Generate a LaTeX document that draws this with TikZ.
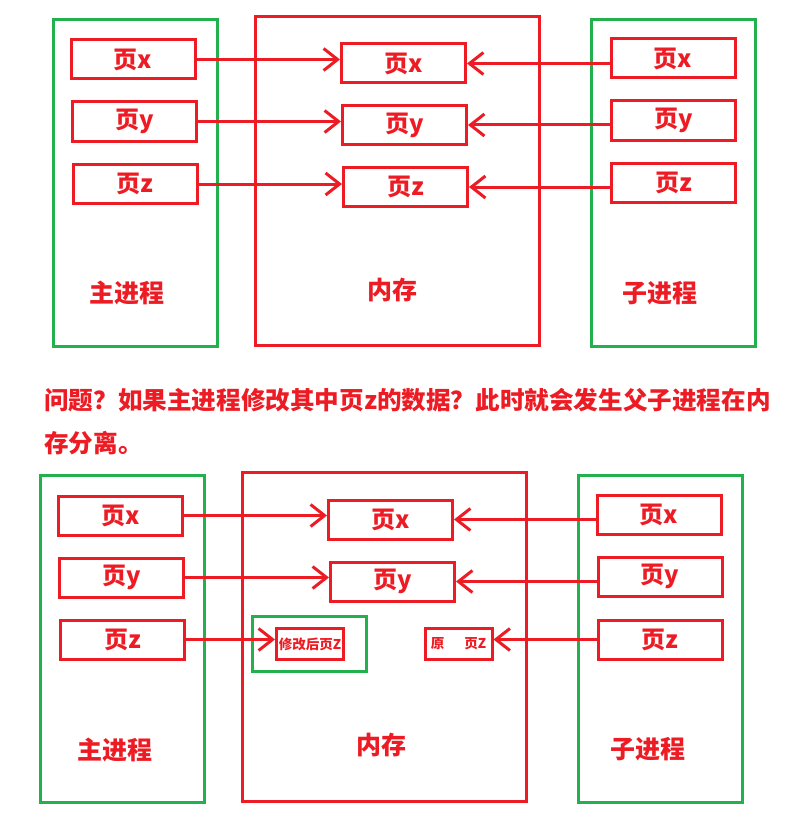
\documentclass[tikz,border=0pt]{standalone}
\usepackage{fontspec}
\setmainfont{Noto Sans CJK SC}
\usepackage{tikz}
\usetikzlibrary{arrows.meta,positioning}
\usepackage{xcolor}
\definecolor{paintred}{RGB}{237,28,36}
\definecolor{paintgreen}{RGB}{34,177,76}
\tikzset{
  procframe/.style={draw=paintgreen,line width=3pt,minimum width=164pt,minimum height=327pt,inner sep=0pt},
  memframe/.style={draw=paintred,line width=3pt,minimum width=284pt,minimum height=329pt,inner sep=0pt},
  pagebox/.style={draw=paintred,line width=3pt,minimum width=124pt,minimum height=39pt,inner sep=0pt,
    text=paintred,font=\bfseries\fontsize{24}{26}\selectfont},
  smallbox/.style={draw=paintred,line width=3pt,minimum width=67pt,minimum height=31pt,inner sep=0pt,
    text=paintred,font=\bfseries\fontsize{13.5}{15}\selectfont},
  newframe/.style={draw=paintgreen,line width=3pt,minimum width=114pt,minimum height=55pt,inner sep=0pt},
  framelabel/.style={text=paintred,font=\bfseries\fontsize{25}{27}\selectfont},
  titletext/.style={text=paintred,align=left,inner sep=0pt,font=\bfseries\fontsize{24.6}{43}\selectfont},
  link/.style={-{Straight Barb[length=14pt,width=22pt]},line width=3pt,draw=paintred}
}
\begin{document}
\begin{tikzpicture}[x=1pt,y=-1pt]
  \useasboundingbox (0,0) rectangle (795,824);
  % before the write
  \node[procframe] (mainA) at (135.5,183) {};
  \node[memframe] (memA) at (397,181) {};
  \node[procframe] (childA) at (673.5,183) {};
  \node[pagebox] (mAx) at (133,59.5) {页x};
  \node[pagebox] (mAy) at (134.5,121.5) {页y};
  \node[pagebox] (mAz) at (135,184) {页z};
  \node[pagebox] (memAx) at (403.5,63.5) {页x};
  \node[pagebox] (memAy) at (404.5,125) {页y};
  \node[pagebox] (memAz) at (405.5,187) {页z};
  \node[pagebox] (cAx) at (673,58.5) {页x};
  \node[pagebox] (cAy) at (673.5,120.5) {页y};
  \node[pagebox] (cAz) at (673.5,183) {页z};
  \node[framelabel] (mAlab) at (127,293) {主进程};
  \node[framelabel] (memAlab) at (392,290) {内存};
  \node[framelabel] (cAlab) at (660,293) {子进程};
  \draw[link] (mAx.east) -- (mAx.east -| memAx.west);
  \draw[link] (mAy.east) -- (mAy.east -| memAy.west);
  \draw[link] (mAz.east) -- (mAz.east -| memAz.west);
  \draw[link] (cAx.west |- memAx.east) -- (memAx.east);
  \draw[link] (cAy.west |- memAy.east) -- (memAy.east);
  \draw[link] (cAz.west |- memAz.east) -- (memAz.east);
  % question
  \node[titletext,anchor=base west] (question) at (44,452)
    {问题？如果主进程修改其中页z的数据？此时就会发生父子进程在内\\存分离。};
  % after the write
  \node[procframe] (mainB) at (122.5,639) {};
  \node[memframe] (memB) at (384.5,637) {};
  \node[procframe] (childB) at (660.5,638.5) {};
  \node[pagebox] (mBx) at (120.5,515.5) {页x};
  \node[pagebox] (mBy) at (121.5,577.5) {页y};
  \node[pagebox] (mBz) at (122.5,639.5) {页z};
  \node[pagebox] (memBx) at (390.5,519.5) {页x};
  \node[pagebox] (memBy) at (392.5,581.5) {页y};
  \node[newframe] (copyframe) at (309.5,644) {};
  \node[smallbox] (newz) at (310,644) {修改后页Z};
  \node[smallbox] (oldz) at (458.5,644) {原\hspace{20pt}页Z};
  \node[pagebox] (cBx) at (659,514.5) {页x};
  \node[pagebox] (cBy) at (660,576.5) {页y};
  \node[pagebox] (cBz) at (660,639.5) {页z};
  \node[framelabel] (mBlab) at (115,750) {主进程};
  \node[framelabel] (memBlab) at (381,745) {内存};
  \node[framelabel] (cBlab) at (648,749) {子进程};
  \draw[link] (mBx.east) -- (mBx.east -| memBx.west);
  \draw[link] (mBy.east) -- (mBy.east -| memBy.west);
  \draw[link] (mBz.east) -- (mBz.east -| newz.west);
  \draw[link] (cBx.west |- memBx.east) -- (memBx.east);
  \draw[link] (cBy.west |- memBy.east) -- (memBy.east);
  \draw[link] (cBz.west) -- (cBz.west -| oldz.east);
\end{tikzpicture}
\end{document}
